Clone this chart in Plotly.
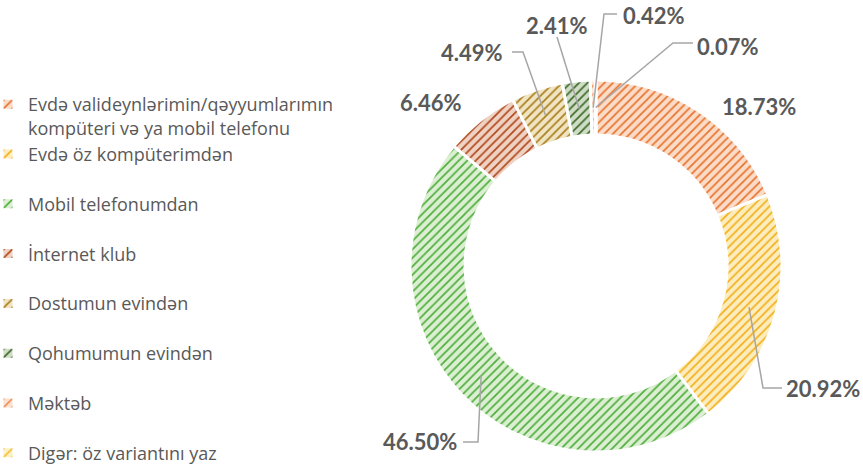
import math
import plotly.graph_objects as go

# ---- data ----
categories = [
    "Evdə valideynlərimin/qəyyumlarımın<br>kompüteri və ya mobil telefonu",
    "Evdə öz kompüterimdən",
    "Mobil telefonumdan",
    "İnternet klub",
    "Dostumun evindən",
    "Qohumumun evindən",
    "Məktəb",
    "Digər: öz variantını yaz",
]
values = [18.73, 20.92, 46.50, 6.46, 4.49, 2.41, 0.42, 0.07]

# ---- styles ----
fg_colors = ["#E8742F", "#F2B01C", "#4FAE3C", "#B04A1C", "#A87F1E", "#3E6B2A", "#F0915A", "#F5C232"]
bg_colors = ["#FBDCC8", "#FDEDBE", "#DCEFD3", "#EFD2C4", "#F1E4C2", "#CFDCC6", "#FBE2D2", "#FDF0C8"]

W, H = 863, 469
CX, CY, R = 596, 266, 186
HOLE = 0.704

label_pos = [(759, 106), (823, 388), (420, 441), (431, 103), (472, 53), (557, 26), (654, 15), (728, 47)]
leader_elbows = [None, [(782, 388), (763, 388)], [(463, 442), (478, 442)], None,
                 [(512, 52), (523, 52)], [(557, 37)], [(617, 14), (604, 14)], [(693, 43), (673, 43)]]


def px(x, y):
    return x / W, 1 - y / H


legend_labels = []
for i, c in enumerate(categories):
    if "<br>" in c or i == len(categories) - 1:
        legend_labels.append(c)
    else:
        legend_labels.append(c + "<br> ")

fig = go.Figure()
fig.add_trace(go.Pie(
    labels=legend_labels,
    values=values,
    sort=False,
    direction="clockwise",
    rotation=0,
    hole=HOLE,
    textinfo="none",
    marker=dict(
        colors=bg_colors,
        line=dict(color="white", width=3),
        pattern=dict(shape="/", fgcolor=fg_colors, bgcolor=bg_colors, size=6, solidity=0.28, fillmode="replace"),
    ),
    domain=dict(x=[(CX - R) / W, (CX + R) / W], y=[1 - (CY + R) / H, 1 - (CY - R) / H]),
))

# labels and leader lines
total = sum(values)
cum = 0.0
shapes = []
annotations = []
r_line = R * (1 + HOLE) / 2
for i, v in enumerate(values):
    mid = (cum + v / 2) / total * 2 * math.pi
    cum += v
    rx = CX + r_line * math.sin(mid)
    ry = CY - r_line * math.cos(mid)
    tx, ty = label_pos[i]
    annotations.append(dict(
        x=tx / W, y=1 - ty / H, xref="paper", yref="paper",
        text=f"{v:.2f}%", showarrow=False, xanchor="center", yanchor="middle",
        font=dict(family="Lato", size=22, color="#595959", weight="bold"),
    ))
    if leader_elbows[i]:
        pts = leader_elbows[i] + [(rx, ry)]
        path = "M " + " L ".join(f"{px(a, b)[0]:.5f},{px(a, b)[1]:.5f}" for a, b in pts)
        shapes.append(dict(type="path", path=path, xref="paper", yref="paper",
                           line=dict(color="#A6A6A6", width=1.5)))

fig.update_layout(
    width=W, height=H,
    margin=dict(l=0, r=0, t=0, b=0, autoexpand=False),
    paper_bgcolor="white",
    plot_bgcolor="white",
    showlegend=True,
    legend=dict(
        x=-12 / W, y=1 - 86 / H, xanchor="left", yanchor="top",
        font=dict(family="Open Sans", size=18, color="#595959"),
        valign="top",
        itemclick=False,
        bgcolor="rgba(0,0,0,0)",
    ),
    shapes=shapes,
    annotations=annotations,
)

fig.write_html("out.html", config={"displayModeBar": False},
               post_script="document.body.style.margin='0';")
